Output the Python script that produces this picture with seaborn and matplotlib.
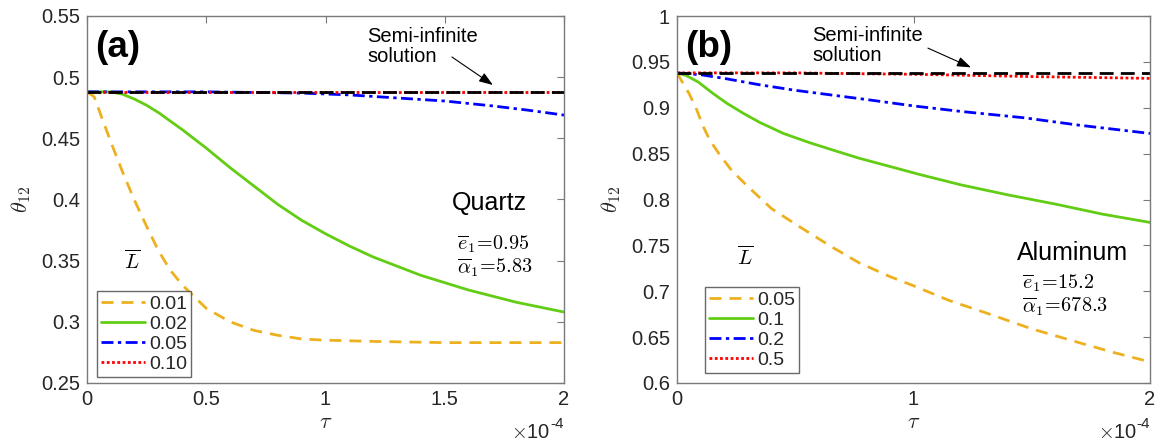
import numpy as np
import pandas as pd
import matplotlib
matplotlib.use("Agg")
import matplotlib.pyplot as plt
import seaborn as sns

# ---------------- data (tau in units of 1e-4) ----------------
# Panel (a) Quartz
a_tau_001 = [0, 0.03, 0.06, 0.1, 0.15, 0.2, 0.25, 0.3, 0.35, 0.4, 0.5, 0.6, 0.7, 0.8, 0.9, 1.0, 1.2, 1.5, 2.0]
a_th_001 = [0.488, 0.484, 0.468, 0.447, 0.422, 0.399, 0.378, 0.358, 0.342, 0.330, 0.311, 0.300, 0.293, 0.289, 0.286, 0.285, 0.284, 0.283, 0.283]
a_tau_002 = [0, 0.1, 0.15, 0.2, 0.25, 0.3, 0.35, 0.4, 0.5, 0.6, 0.7, 0.8, 0.9, 1.0, 1.1, 1.2, 1.4, 1.6, 1.8, 2.0]
a_th_002 = [0.488, 0.488, 0.486, 0.482, 0.477, 0.471, 0.464, 0.457, 0.442, 0.426, 0.411, 0.396, 0.383, 0.372, 0.362, 0.353, 0.338, 0.326, 0.316, 0.308]
a_tau_005 = [0, 0.5, 0.7, 0.9, 1.1, 1.3, 1.5, 1.7, 1.85, 2.0]
a_th_005 = [0.488, 0.488, 0.4875, 0.487, 0.4855, 0.483, 0.4805, 0.4765, 0.473, 0.469]
a_tau_010 = [0, 1.0, 2.0]
a_th_010 = [0.488, 0.488, 0.488]
a_tau_semi = [0, 2.0]
a_th_semi = [0.488, 0.488]
a_labels = ["0.01", "0.02", "0.05", "0.10"]

# Panel (b) Aluminum
b_tau_005 = [0, 0.02, 0.05, 0.08, 0.11, 0.14, 0.18, 0.23, 0.3, 0.4, 0.52, 0.65, 0.77, 0.9, 1.0, 1.15, 1.3, 1.5, 1.7, 1.85, 2.0]
b_th_005 = [0.938, 0.929, 0.916, 0.900, 0.880, 0.864, 0.849, 0.832, 0.814, 0.790, 0.770, 0.749, 0.731, 0.716, 0.706, 0.690, 0.677, 0.659, 0.644, 0.633, 0.623]
b_tau_01 = [0, 0.04, 0.09, 0.15, 0.21, 0.28, 0.35, 0.45, 0.56, 0.67, 0.77, 0.9, 1.03, 1.2, 1.4, 1.6, 1.8, 2.0]
b_th_01 = [0.938, 0.935, 0.928, 0.916, 0.905, 0.894, 0.884, 0.872, 0.862, 0.853, 0.845, 0.836, 0.827, 0.816, 0.805, 0.795, 0.784, 0.775]
b_tau_02 = [0, 0.1, 0.2, 0.35, 0.5, 0.65, 0.8, 1.0, 1.2, 1.47, 1.7, 2.0]
b_th_02 = [0.938, 0.936, 0.932, 0.925, 0.919, 0.914, 0.909, 0.902, 0.896, 0.889, 0.881, 0.872]
b_tau_05 = [0, 0.5, 0.8, 1.0, 1.5, 2.0]
b_th_05 = [0.938, 0.938, 0.937, 0.9365, 0.934, 0.932]
b_tau_semi = [0, 2.0]
b_th_semi = [0.938, 0.938]
b_labels = ["0.05", "0.1", "0.2", "0.5"]

a_xticks = [0, 0.5, 1, 1.5, 2]
a_xticklabels = ["0", "0.5", "1", "1.5", "2"]
a_yticks = [0.25, 0.3, 0.35, 0.4, 0.45, 0.5, 0.55]
a_yticklabels = ["0.25", "0.3", "0.35", "0.4", "0.45", "0.5", "0.55"]
b_xticks = [0, 1, 2]
b_xticklabels = ["0", "1", "2"]
b_yticks = [0.6, 0.65, 0.7, 0.75, 0.8, 0.85, 0.9, 0.95, 1.0]
b_yticklabels = ["0.6", "0.65", "0.7", "0.75", "0.8", "0.85", "0.9", "0.95", "1"]

# ---------------- style ----------------
sns.set_theme(style="white")
plt.rcParams["font.family"] = ["Liberation Sans", "DejaVu Sans"]
plt.rcParams["mathtext.fontset"] = "cm"

ORANGE = "#EDB120"
GREEN = "#62CD14"
BLUE = "#0000FF"
RED = "#FF0000"
SPINE = "#7a7a7a"
TXT = "#262626"

W, H = 1161, 446
fig = plt.figure(figsize=(W / 100, H / 100), dpi=100)
axA = fig.add_axes([87 / W, 63 / H, 477 / W, 367 / H])
axB = fig.add_axes([677 / W, 63 / H, 473 / W, 367 / H])

LW = 2.0
styles = [
    dict(color=ORANGE, linestyle=(0, (4.3, 2.9)), linewidth=LW),
    dict(color=GREEN, linestyle="-", linewidth=LW),
    dict(color=BLUE, linestyle=(0, (4.3, 1.6, 1.2, 1.6)), linewidth=LW),
    dict(color=RED, linestyle=(0, (1.0, 0.9)), linewidth=LW),
]
semi_style = dict(color="black", linestyle=(0, (5, 2.6)), linewidth=LW)


def draw(ax, series, labels, semi):
    for (t, th), st, lab in zip(series, styles, labels):
        sns.lineplot(x=t, y=th, ax=ax, label=lab, sort=False, **st)
    sns.lineplot(x=semi[0], y=semi[1], ax=ax, **semi_style)


draw(axA, [(a_tau_001, a_th_001), (a_tau_002, a_th_002), (a_tau_005, a_th_005), (a_tau_010, a_th_010)],
     a_labels, (a_tau_semi, a_th_semi))
draw(axB, [(b_tau_005, b_th_005), (b_tau_01, b_th_01), (b_tau_02, b_th_02), (b_tau_05, b_th_05)],
     b_labels, (b_tau_semi, b_th_semi))

for ax, xt, xtl, yt, ytl, ylim, anchor in [
    (axA, a_xticks, a_xticklabels, a_yticks, a_yticklabels, (0.25, 0.55), (0.021, 0.016)),
    (axB, b_xticks, b_xticklabels, b_yticks, b_yticklabels, (0.6, 1.0), (0.059, 0.027)),
]:
    ax.set_xlim(0, 2)
    ax.set_ylim(*ylim)
    ax.set_xticks(xt)
    ax.set_xticklabels(xtl)
    ax.set_yticks(yt)
    ax.set_yticklabels(ytl)
    ax.tick_params(direction="in", top=True, right=True, length=5, width=0.8,
                   color=SPINE, labelsize=14.5, labelcolor=TXT, pad=5)
    for s in ax.spines.values():
        s.set_color(SPINE)
        s.set_linewidth(1.0)
    ax.set_xlabel(r"$\tau$", fontsize=16, color=TXT, labelpad=2)
    ax.set_ylabel(r"$\theta_{12}$", fontsize=16, color=TXT, labelpad=6)
    leg = ax.legend(loc="lower left", bbox_to_anchor=anchor, fontsize=14, frameon=True,
                    fancybox=False, edgecolor="#444444", handlelength=2.25, handletextpad=0.2,
                    labelspacing=0.12, borderpad=0.22, borderaxespad=0.0)
    leg.get_frame().set_linewidth(1.0)
    for t in leg.get_texts():
        t.set_color(TXT)

# ---------------- annotations ----------------
arrow = dict(arrowstyle="-|>,head_length=0.7,head_width=0.25", color="black", lw=0.8,
             shrinkA=0, shrinkB=0)

axA.text(0.034, 0.524, "(a)", fontsize=26.5, fontweight="bold", ha="left", va="center", color="black")
axA.text(1.174, 0.525, "Semi-infinite\nsolution", fontsize=14.5, ha="left", va="center",
         color="black", linespacing=1.1)
axA.annotate("", xy=(1.702, 0.4936), xytext=(1.530, 0.5165), arrowprops=arrow)
axA.text(1.530, 0.397, "Quartz", fontsize=18, ha="left", va="center", color="black")
axA.text(1.551, 0.3636, r"$\overline{e}_1\!=\!0.95$", fontsize=14.5, ha="left", va="center", color="black")
axA.text(1.551, 0.344, r"$\overline{\alpha}_1\!=\!5.83$", fontsize=14.5, ha="left", va="center", color="black")
axA.text(0.189, 0.350, r"$\overline{L}$", fontsize=15, ha="center", va="center", color="black")

axB.text(0.034, 0.966, "(b)", fontsize=26.5, fontweight="bold", ha="left", va="center", color="black")
axB.text(0.571, 0.968, "Semi-infinite\nsolution", fontsize=14.5, ha="left", va="center",
         color="black", linespacing=1.1)
axB.annotate("", xy=(1.243, 0.944), xytext=(1.061, 0.965), arrowprops=arrow)
axB.text(1.438, 0.742, "Aluminum", fontsize=18, ha="left", va="center", color="black")
axB.text(1.459, 0.709, r"$\overline{e}_1\!=\!15.2$", fontsize=14.5, ha="left", va="center", color="black")
axB.text(1.459, 0.683, r"$\overline{\alpha}_1\!=\!678.3$", fontsize=14.5, ha="left", va="center", color="black")
axB.text(0.288, 0.737, r"$\overline{L}$", fontsize=15, ha="center", va="center", color="black")

# x10^-4 multipliers
for ax in (axA, axB):
    ax.text(0.972, -0.135, r"$\times$10", transform=ax.transAxes, fontsize=14.5, ha="right", va="center",
            color=TXT)
    ax.text(0.972, -0.113, "-4", transform=ax.transAxes, fontsize=11, ha="left", va="center", color=TXT)

fig.savefig("out.png", dpi=100)
